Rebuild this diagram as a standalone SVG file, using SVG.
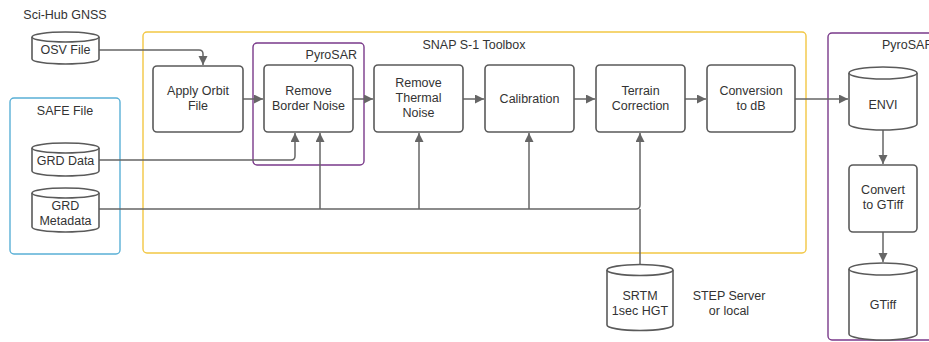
<svg xmlns="http://www.w3.org/2000/svg" width="929" height="342" viewBox="0 0 929 342">
<style>
text{font-family:"Liberation Sans",Arial,sans-serif;font-size:12.5px;fill:#333;text-anchor:middle}
.box{fill:#fff;stroke:#5a5a5a;stroke-width:1.6}
.cyl{fill:#fff;stroke:#5a5a5a;stroke-width:1.6}
.grp{fill:none;stroke-width:1.4}
.con{fill:none;stroke:#666;stroke-width:1.5}
</style>
<defs>
<marker id="ah" markerUnits="userSpaceOnUse" markerWidth="10" markerHeight="10" refX="9" refY="4.5" orient="auto">
<path d="M0,0 L9,4.5 L0,9 z" fill="#666"/>
</marker>
</defs>
<rect width="929" height="342" fill="#fff"/>

<g id="snap-group">
<rect class="grp" x="143" y="32" width="663" height="221" rx="4" stroke="#f2c744"/>
<text x="474" y="49">SNAP S-1 Toolbox</text>
</g>
<g id="safe-group">
<rect class="grp" x="10" y="98" width="110" height="156" rx="4" stroke="#5ab0d6"/>
<text x="65" y="115">SAFE File</text>
</g>
<g id="pyrosar-group1">
<rect class="grp" x="253" y="43" width="111" height="122" rx="4" stroke="#7a3a8a"/>
<text x="357" y="59" style="text-anchor:end">PyroSAR</text>
</g>
<g id="pyrosar-group2">
<rect class="grp" x="828" y="33" width="120" height="307" rx="4" stroke="#7a3a8a"/>
<text x="882" y="49" style="text-anchor:start">PyroSAR</text>
</g>
<g id="scihub-label"><text x="65" y="19">Sci-Hub GNSS</text></g>

<g id="connectors">
<path class="con" d="M99,50 H199 Q203,50 203,54 V65" marker-end="url(#ah)"/>
<path class="con" d="M99,160 H291 Q295,160 295,156 V133" marker-end="url(#ah)"/>
<path class="con" d="M99,209 H636 Q640,209 640,205 V133" marker-end="url(#ah)"/>
<path class="con" d="M320,209 V133" marker-end="url(#ah)"/>
<path class="con" d="M419,209 V133" marker-end="url(#ah)"/>
<path class="con" d="M529,209 V133" marker-end="url(#ah)"/>
<path class="con" d="M640,264 V209"/>
<path class="con" d="M243,99 H263" marker-end="url(#ah)"/>
<path class="con" d="M353,99 H373" marker-end="url(#ah)"/>
<path class="con" d="M463,99 H484" marker-end="url(#ah)"/>
<path class="con" d="M574,99 H595" marker-end="url(#ah)"/>
<path class="con" d="M685,99 H706" marker-end="url(#ah)"/>
<path class="con" d="M795,99 H848" marker-end="url(#ah)"/>
<path class="con" d="M883,130 V164" marker-end="url(#ah)"/>
<path class="con" d="M883,232 V262" marker-end="url(#ah)"/>
</g>

<g id="osv-file">
<path class="cyl" d="M32,37 A33.5,5 0 0 1 99,37 V59 A33.5,5 0 0 1 32,59 Z"/>
<path class="cyl" d="M32,37 A33.5,5 0 0 0 99,37" fill="none"/>
<text x="65.5" y="54">OSV File</text>
</g>
<g id="grd-data">
<path class="cyl" d="M32,148 A33.5,5 0 0 1 99,148 V171 A33.5,5 0 0 1 32,171 Z"/>
<path class="cyl" d="M32,148 A33.5,5 0 0 0 99,148" fill="none"/>
<text x="65.5" y="165">GRD Data</text>
</g>
<g id="grd-metadata">
<path class="cyl" d="M32,193 A33.5,5 0 0 1 99,193 V227 A33.5,5 0 0 1 32,227 Z"/>
<path class="cyl" d="M32,193 A33.5,5 0 0 0 99,193" fill="none"/>
<text x="65.5" y="210">GRD</text>
<text x="65.5" y="225">Metadata</text>
</g>

<g id="apply-orbit">
<rect class="box" x="153" y="66" width="90" height="66" rx="4"/>
<text x="198" y="95">Apply Orbit</text>
<text x="198" y="110">File</text>
</g>
<g id="remove-border">
<rect class="box" x="264" y="65" width="89" height="67" rx="4"/>
<text x="308.5" y="95">Remove</text>
<text x="308.5" y="110">Border Noise</text>
</g>
<g id="remove-thermal">
<rect class="box" x="374" y="65" width="89" height="67" rx="4"/>
<text x="418.5" y="87">Remove</text>
<text x="418.5" y="102">Thermal</text>
<text x="418.5" y="117">Noise</text>
</g>
<g id="calibration">
<rect class="box" x="485" y="65" width="89" height="67" rx="4"/>
<text x="529.5" y="103">Calibration</text>
</g>
<g id="terrain">
<rect class="box" x="596" y="65" width="89" height="67" rx="4"/>
<text x="640.5" y="95">Terrain</text>
<text x="640.5" y="110">Correction</text>
</g>
<g id="conversion">
<rect class="box" x="707" y="65" width="88" height="67" rx="4"/>
<text x="751" y="95">Conversion</text>
<text x="751" y="110">to dB</text>
</g>

<g id="srtm">
<path class="cyl" d="M607,270 A33,5.5 0 0 1 673,270 V325 A33,5.5 0 0 1 607,325 Z"/>
<path class="cyl" d="M607,270 A33,5.5 0 0 0 673,270" fill="none"/>
<text x="640" y="300">SRTM</text>
<text x="640" y="315">1sec HGT</text>
</g>
<g id="step-label">
<text x="729" y="300">STEP Server</text>
<text x="729" y="315">or local</text>
</g>

<g id="envi">
<path class="cyl" d="M849,73 A34,6 0 0 1 917,73 V124 A34,6 0 0 1 849,124 Z"/>
<path class="cyl" d="M849,73 A34,6 0 0 0 917,73" fill="none"/>
<text x="883" y="109">ENVI</text>
</g>
<g id="convert-gtiff">
<rect class="box" x="849" y="165" width="68" height="67" rx="4"/>
<text x="883" y="194">Convert</text>
<text x="883" y="209">to GTiff</text>
</g>
<g id="gtiff">
<path class="cyl" d="M849,269 A34,6 0 0 1 917,269 V334 A34,6 0 0 1 849,334 Z"/>
<path class="cyl" d="M849,269 A34,6 0 0 0 917,269" fill="none"/>
<text x="883" y="309">GTiff</text>
</g>
</svg>
